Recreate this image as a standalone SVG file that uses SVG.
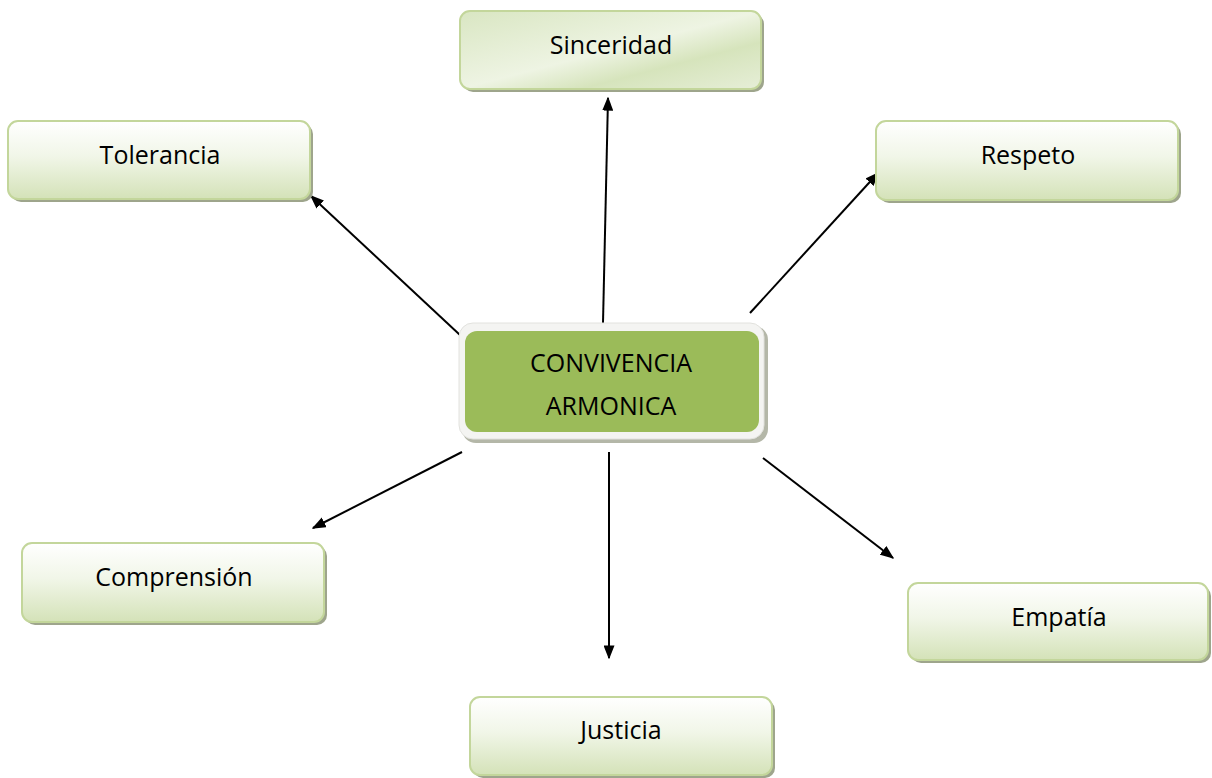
<svg xmlns="http://www.w3.org/2000/svg" width="1212" height="778" viewBox="0 0 1212 778">
<defs>
<linearGradient id="g" x1="0" y1="0" x2="0" y2="1">
<stop offset="0" stop-color="#ffffff"/>
<stop offset="0.45" stop-color="#f1f6e8"/>
<stop offset="1" stop-color="#d4e2b8"/>
</linearGradient>
<linearGradient id="g2" x1="0" y1="0" x2="1" y2="1">
<stop offset="0" stop-color="#d9e6c2"/>
<stop offset="0.5" stop-color="#eef4e3"/>
<stop offset="0.7" stop-color="#d6e4bc"/>
<stop offset="1" stop-color="#e6eed7"/>
</linearGradient>
<marker id="ah" viewBox="0 0 10 10" refX="9" refY="5" markerWidth="14" markerHeight="11" markerUnits="userSpaceOnUse" orient="auto" preserveAspectRatio="none">
<path d="M0,0 L10,5 L0,10 z" fill="#000"/>
</marker>
<style>
.sh{fill:#9ea58c}
.box{fill:url(#g);stroke:#c3d69b;stroke-width:2}
.t{font-family:"Open Sans","Noto Sans",sans-serif;font-size:25px;fill:#000;text-anchor:middle}
.c line{stroke:#000;stroke-width:2;marker-end:url(#ah)}
</style>
</defs>
<rect width="1212" height="778" fill="#fff"/>
<g class="c" id="connectors">
<line x1="603" y1="323" x2="608" y2="98"/>
<line x1="460" y1="335" x2="311" y2="196"/>
<line x1="750" y1="313" x2="878" y2="173"/>
<line x1="462" y1="452" x2="313" y2="528"/>
<line x1="609" y1="452" x2="609" y2="658"/>
<line x1="763" y1="458" x2="893" y2="558"/>
</g>
<g id="sinceridad">
<rect class="sh" x="463" y="14" width="301" height="78" rx="10"/>
<rect x="460" y="11" width="301" height="78" rx="10" fill="url(#g2)" stroke="#c3d69b" stroke-width="2"/>
<text class="t" x="611" y="54">Sinceridad</text>
</g>
<g id="tolerancia">
<rect class="sh" x="11" y="124" width="302" height="78" rx="10"/>
<rect class="box" x="8" y="121" width="302" height="78" rx="10"/>
<text class="t" x="160" y="164">Tolerancia</text>
</g>
<g id="respeto">
<rect class="sh" x="879" y="124" width="302" height="79" rx="10"/>
<rect class="box" x="876" y="121" width="302" height="79" rx="10"/>
<text class="t" x="1028" y="164">Respeto</text>
</g>
<g id="comprension">
<rect class="sh" x="25" y="546" width="302" height="79" rx="10"/>
<rect class="box" x="22" y="543" width="302" height="79" rx="10"/>
<text class="t" x="174" y="586">Comprensión</text>
</g>
<g id="empatia">
<rect class="sh" x="911" y="586" width="300" height="77" rx="10"/>
<rect class="box" x="908" y="583" width="300" height="77" rx="10"/>
<text class="t" x="1059" y="626">Empatía</text>
</g>
<g id="justicia">
<rect class="sh" x="473" y="700" width="302" height="78" rx="10"/>
<rect class="box" x="470" y="697" width="302" height="78" rx="10"/>
<text class="t" x="621" y="739">Justicia</text>
</g>
<g id="convivencia">
<rect x="462" y="326" width="306" height="117" rx="14" fill="#b4b7a8"/>
<rect x="459" y="323" width="305" height="116" rx="14" fill="#f4f4f2" stroke="#e2e2de" stroke-width="1"/>
<rect x="465" y="331" width="294" height="101" rx="12" fill="#9bbb59"/>
<text class="t" x="611" y="372">CONVIVENCIA</text>
<text class="t" x="611" y="415">ARMONICA</text>
</g>
</svg>
